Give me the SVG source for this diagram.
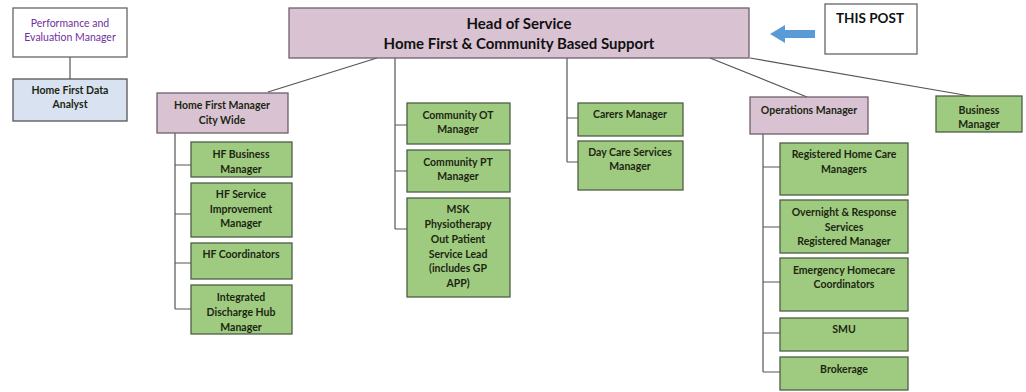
<svg xmlns="http://www.w3.org/2000/svg" width="1026" height="392" viewBox="0 0 1026 392">
<style>
text{font-family:Lato,"Liberation Sans",sans-serif;font-size:10.5px;font-weight:bold;fill:#1c2612;text-anchor:middle}
.g{fill:#9fcb80;stroke:#4f5e44;stroke-width:1.3}
.m{fill:#d9c3d3;stroke:#6f5f6b;stroke-width:1.3}
.w{fill:#fff;stroke:#666;stroke-width:1.3}
.b{fill:#d8e2f1;stroke:#555;stroke-width:1.3}
.c{fill:none;stroke:#555;stroke-width:1.2}
.p{fill:#7030a0;font-weight:normal}
.h{font-size:15px;fill:#111}
</style>
<rect width="1026" height="392" fill="#fff"/>
<g id="connectors">
<path class="c" d="M70 57V79"/>
<path class="c" d="M377 58L268 92"/>
<path class="c" d="M395 58V229M395 125H407M395 171H407M395 229H407"/>
<path class="c" d="M567 58V162M567 118H578M567 162H578"/>
<path class="c" d="M710 58L807 97"/>
<path class="c" d="M750 58L970 96"/>
<path class="c" d="M175 133V309M175 165H191M175 214H191M175 263H191M175 309H191"/>
<path class="c" d="M763 134V372M763 167H780M763 227H780M763 282H780M763 333H780M763 372H780"/>
</g>
<g id="perf"><rect class="w" x="13" y="8" width="114" height="49"/><text class="p" x="70" y="27">Performance and</text><text class="p" x="70" y="41">Evaluation  Manager</text></g>
<g id="analyst"><rect class="b" x="13" y="79" width="114" height="42"/><text x="70" y="94">Home First Data</text><text x="70" y="108">Analyst</text></g>
<g id="head"><rect class="m" x="289" y="8" width="460" height="50"/><text class="h" x="519" y="29">Head of Service</text><text class="h" x="519" y="49">Home First &amp; Community Based Support</text></g>
<g id="arrow"><polygon points="770,34 785,25 785,30 815,30 815,38 785,38 785,43" fill="#5b9bd5"/></g>
<g id="thispost"><rect class="w" x="825" y="4" width="92" height="50"/><text x="870" y="23" style="font-size:13.5px;fill:#111">THIS POST</text></g>
<g id="hfm"><rect class="m" x="157" y="93" width="131" height="40"/><text x="222" y="109">Home First Manager</text><text x="222" y="124">City Wide</text></g>
<g id="hfbus"><rect class="g" x="191" y="142" width="101" height="35"/><text x="241" y="158">HF Business</text><text x="241" y="173">Manager</text></g>
<g id="hfsim"><rect class="g" x="191" y="183" width="101" height="54"/><text x="241" y="198">HF Service</text><text x="241" y="213">Improvement</text><text x="241" y="227">Manager</text></g>
<g id="hfcoord"><rect class="g" x="191" y="243" width="101" height="36"/><text x="241" y="258">HF Coordinators</text></g>
<g id="idhub"><rect class="g" x="191" y="285" width="101" height="49"/><text x="241" y="301">Integrated</text><text x="241" y="316">Discharge  Hub</text><text x="241" y="331">Manager</text></g>
<g id="cot"><rect class="g" x="407" y="103" width="103" height="41"/><text x="458" y="119">Community OT</text><text x="458" y="133">Manager</text></g>
<g id="cpt"><rect class="g" x="407" y="150" width="103" height="42"/><text x="458" y="166">Community PT</text><text x="458" y="180">Manager</text></g>
<g id="msk"><rect class="g" x="407" y="198" width="103" height="99"/><text x="458" y="213">MSK</text><text x="458" y="228">Physiotherapy</text><text x="458" y="243">Out Patient</text><text x="458" y="258">Service Lead</text><text x="458" y="272">(includes  GP</text><text x="458" y="287">APP)</text></g>
<g id="carers"><rect class="g" x="578" y="103" width="105" height="33"/><text x="630" y="118">Carers Manager</text></g>
<g id="daycare"><rect class="g" x="578" y="141" width="105" height="49"/><text x="630" y="156">Day Care Services</text><text x="630" y="170">Manager</text></g>
<g id="ops"><rect class="m" x="750" y="97" width="118" height="37"/><text x="809" y="114">Operations Manager</text></g>
<g id="bus"><rect class="g" x="936" y="96" width="86" height="36"/><text x="979" y="114">Business</text><text x="979" y="128">Manager</text></g>
<g id="rhc"><rect class="g" x="780" y="143" width="128" height="52"/><text x="844" y="158">Registered Home Care</text><text x="844" y="173">Managers</text></g>
<g id="overnight"><rect class="g" x="780" y="200" width="128" height="53"/><text x="844" y="216">Overnight &amp; Response</text><text x="844" y="231">Services</text><text x="844" y="245">Registered Manager</text></g>
<g id="emerg"><rect class="g" x="780" y="258" width="128" height="53"/><text x="844" y="274">Emergency Homecare</text><text x="844" y="288">Coordinators</text></g>
<g id="smu"><rect class="g" x="780" y="318" width="128" height="33"/><text x="844" y="333">SMU</text></g>
<g id="brokerage"><rect class="g" x="780" y="357" width="128" height="33"/><text x="844" y="373">Brokerage</text></g>
</svg>
